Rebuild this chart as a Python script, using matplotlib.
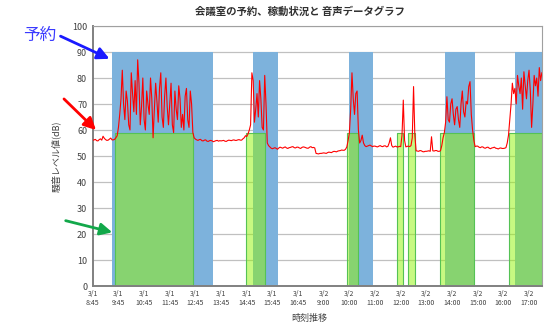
import numpy as np
import matplotlib
matplotlib.use("Agg")
import matplotlib.pyplot as plt

plt.rcParams['font.family'] = ['Noto Sans CJK JP', 'DejaVu Sans']

#   x axis: one unit per tick slot (category style axis, overnight removed)
tick_labels = ["3/1\n8:45", "3/1\n9:45", "3/1\n10:45", "3/1\n11:45", "3/1\n12:45",
               "3/1\n13:45", "3/1\n14:45", "3/1\n15:45", "3/1\n16:45",
               "3/2\n9:00", "3/2\n10:00", "3/2\n11:00", "3/2\n12:00", "3/2\n13:00",
               "3/2\n14:00", "3/2\n15:00", "3/2\n16:00", "3/2\n17:00"]

#   Reservation periods (start, end) in tick slots
reserve_start = [0.75, 6.25, 9.97, 13.72, 16.47]
reserve_end = [4.69, 7.20, 10.93, 14.91, 17.50]
reserve_level = 90

#   Occupancy periods (start, end) in tick slots
occupy_start = [0.86, 5.99, 9.92, 11.85, 12.30, 13.55, 16.20]
occupy_end = [3.90, 6.73, 10.33, 12.08, 12.54, 14.87, 17.50]
occupy_level = 59

#   Noise level (dB), one reading every 0.05 slot (20 per slot)
noise_db = [56.0, 56.2, 56.4, 55.9, 55.8, 56.3, 56.6, 56.1, 57.6, 56.8, 56.3, 56.0, 56.1, 56.5, 56.9, 56.2, 56.2, 56.4, 57.0, 57.8,
            61, 66, 72, 83, 70, 64, 75, 71, 62, 60, 82, 74, 67, 79, 66, 87, 78, 62, 69, 80,
            64, 60, 75, 70, 66, 80, 72, 57, 68, 78, 71, 63, 76, 82, 65, 61, 73, 80, 69, 62,
            70, 78, 62, 59, 75, 68, 64, 77, 72, 61, 66, 60, 73, 76, 64, 61, 75, 70, 59, 57,
            56.5, 56.2, 56.0, 56.3, 56.4, 55.9, 55.8, 56.1, 56.2, 55.7, 55.6, 55.9, 56.0, 55.8, 55.5, 55.7, 55.9, 56.0, 55.7, 55.9,
            55.8, 55.9, 56.0, 55.7, 55.6, 55.9, 56.1, 56.0, 55.9, 56.1, 56.2, 56.0, 56.0, 56.2, 56.3, 56.1, 56.1, 56.6, 57.0, 57.8,
            57.5, 58.5, 60, 62, 82, 79, 63, 68, 74, 65, 79, 72, 61, 60, 81, 70, 55, 54, 53.5, 53,
            52.8, 53.0, 53.2, 52.9, 52.6, 53.1, 53.4, 53.2, 53.0, 53.3, 53.5, 53.1, 52.9, 53.2, 53.3, 53.5, 53.6, 53.2, 53.1, 53.4,
            53.4, 53.1, 52.9, 53.3, 53.5, 53.4, 53.2, 53.0, 53.0, 53.4, 53.6, 53.2, 53.3, 53.1, 51.0, 50.9, 50.8, 51.0, 51.0, 51.1,
            51.2, 51.1, 51.0, 51.3, 51.5, 51.4, 51.3, 51.6, 51.8, 51.7, 51.6, 51.9, 52.0, 52.1, 52.3, 52.2, 52.2, 52.6, 53.5, 56,
            59, 68, 82, 72, 66, 74, 75, 60, 55, 56, 58, 55, 54, 53.6, 53.8, 54.0, 54.2, 53.9, 53.6, 53.8,
            53.8, 53.6, 53.5, 53.8, 54.0, 53.7, 53.6, 53.9, 53.9, 53.5, 53.7, 55, 57.0, 54, 53.4, 53.6, 53.8, 53.5, 53.5, 53.7,
            53.6, 58, 71.5, 56, 53.5, 53.7, 53.8, 53.6, 54.0, 57, 76.7, 58, 52.0, 51.9, 51.8, 52.1, 52.0, 51.7, 51.6, 51.8,
            51.8, 51.9, 52.0, 51.8, 57.4, 52.0, 51.9, 52.1, 52.1, 51.8, 51.8, 52.0, 54.0, 57, 59, 63, 72.8, 64, 63, 70,
            72, 66, 62, 68, 69, 64, 61, 70, 75, 67, 65, 71, 70, 76.7, 78.6, 66, 60, 56, 53.6, 53.8,
            53.8, 53.4, 53.2, 53.5, 53.5, 53.1, 53.0, 53.3, 53.4, 53.0, 52.8, 53.1, 53.2, 53.4, 53.0, 52.9, 52.7, 53.0, 53.1, 52.9,
            52.9, 53.0, 53.2, 55, 58, 64, 70, 78, 74, 76, 70, 81, 77, 74, 80, 68, 82.4, 77, 72, 79,
            83, 75, 61, 70, 81, 77, 80, 73, 84, 79, 82]
noise_x = np.arange(len(noise_db)) * 0.05

fig = plt.figure(figsize=(5.49, 3.25), dpi=100)
ax = fig.add_axes([0.169, 0.12, 0.818, 0.80])

#   Reservation bars (blue)
for s, e in zip(reserve_start, reserve_end):
    ax.fill_between([s, e], 0, reserve_level, color='#7db2dc', lw=0, zorder=1)

#   Occupancy bars (semi transparent green over blue)
for s, e in zip(occupy_start, occupy_end):
    ax.fill_between([s, e], 0, occupy_level, facecolor=(0.57, 0.96, 0.02, 0.5),
                    edgecolor='#55c255', lw=0.8, zorder=2)

#   Noise data
ax.plot(noise_x, noise_db, color='#ff0000', lw=0.8, zorder=3)

ax.set_xlim(0, 17.5)
ax.set_ylim(0, 100)
ax.set_yticks(np.arange(0, 101, 10))
ax.set_xticks(np.arange(len(tick_labels)))
ax.set_xticklabels(tick_labels, fontsize=5, color='#404040', linespacing=1.1)
ax.tick_params(axis='y', labelsize=6.5, labelcolor='#404040', length=0, pad=4)
ax.tick_params(axis='x', length=0, pad=3)
ax.grid(axis='y', color='#c0c0c0', lw=0.9, zorder=0)
ax.set_axisbelow(True)
for side in ['top', 'right']:
    ax.spines[side].set_color('#a0a0a0')
    ax.spines[side].set_linewidth(0.8)
for side in ['left', 'bottom']:
    ax.spines[side].set_color('#808080')
    ax.spines[side].set_linewidth(1.4)

ax.set_ylabel('騒音レベル値(dB)', fontsize=6.5, color='#404040', labelpad=8)
fig.text(309 / 549, 1 - 318 / 325, '時刻推移', fontsize=6.5, color='#404040',
         ha='center', va='center')
fig.text(300 / 549, 1 - 12 / 325, '会議室の予約、稼動状況と 音声データグラフ',
         fontsize=7.5, fontweight='bold', color='#303030', ha='center', va='center')

#   Annotation arrows
fig.text(40 / 549, 1 - 35 / 325, '予約', fontsize=12, color='#3a3aff',
         ha='center', va='center')
ax.annotate('', xy=(112, 265), xytext=(58, 290), xycoords='figure pixels',
            textcoords='figure pixels', annotation_clip=False,
            arrowprops=dict(arrowstyle='-|>', color='#1a1aff', lw=2, mutation_scale=18))
ax.annotate('', xy=(98, 193), xytext=(62, 228), xycoords='figure pixels',
            textcoords='figure pixels', annotation_clip=False,
            arrowprops=dict(arrowstyle='-|>', color='#ff0000', lw=2, mutation_scale=18))
ax.annotate('', xy=(115, 92), xytext=(63, 105), xycoords='figure pixels',
            textcoords='figure pixels', annotation_clip=False,
            arrowprops=dict(arrowstyle='-|>', color='#12a84a', lw=2, mutation_scale=18))

fig.savefig('out.png', dpi=100)
